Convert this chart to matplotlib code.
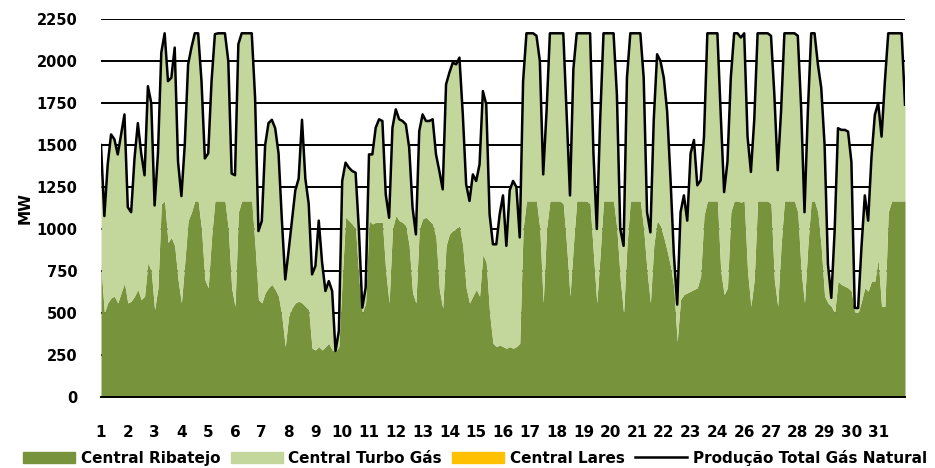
import matplotlib
matplotlib.use("Agg")
import matplotlib.pyplot as plt
from matplotlib.patches import Patch
from matplotlib.lines import Line2D

# hours from start of the period, one reading every 3 hours (30 days)
hours = list(range(0, 721, 3))

# Produção Total Gás Natural (MW)
total = [
    1500, 1077, 1385, 1563, 1534, 1444, 1563, 1682,
    1130, 1100, 1420, 1630, 1450, 1320, 1850, 1750,
    1140, 1450, 2050, 2165, 1880, 1900, 2080, 1400,
    1196, 1500, 1980, 2080, 2165, 2165, 1880, 1420,
    1450, 1880, 2160, 2165, 2165, 2165, 2000, 1330,
    1320, 2100, 2165, 2165, 2165, 2165, 1780, 988,
    1048, 1500, 1630, 1650, 1600, 1450, 1050, 700,
    870, 1050, 1230, 1300, 1650, 1300, 1150, 730,
    780, 1050, 800, 631, 690, 631, 274, 393,
    1286, 1395, 1365, 1345, 1335, 988, 532, 651,
    1444, 1444, 1603, 1653, 1643, 1206, 1067, 1603,
    1712, 1653, 1643, 1623, 1484, 1127, 968, 1583,
    1682, 1643, 1643, 1653, 1444, 1345, 1236, 1861,
    1931, 1990, 1980, 2020, 1683, 1266, 1167, 1325,
    1286, 1385, 1821, 1742, 1087, 909, 909, 1087,
    1200, 900, 1230, 1286, 1250, 950, 1880, 2165,
    2165, 2165, 2150, 2000, 1325, 1700, 2165, 2165,
    2165, 2165, 2165, 1680, 1200, 1950, 2165, 2165,
    2165, 2165, 2165, 1450, 1000, 1650, 2165, 2165,
    2165, 2165, 1800, 1000, 900, 1900, 2165, 2165,
    2165, 2165, 1900, 1100, 980, 1650, 2040, 2000,
    1900, 1700, 1300, 850, 550, 1100, 1200, 1050,
    1450, 1530, 1260, 1290, 1550, 2165, 2165, 2165,
    2165, 1680, 1220, 1400, 1900, 2165, 2165, 2140,
    2165, 1550, 1340, 1650, 2165, 2165, 2165, 2165,
    2150, 1800, 1350, 1700, 2165, 2165, 2165, 2165,
    2150, 1720, 1100, 1700, 2165, 2165, 1980, 1840,
    1500, 790, 590, 990, 1600, 1590, 1590, 1580,
    1400, 530, 530, 890, 1200, 1050, 1430, 1680,
    1750, 1550, 1880, 2165, 2165, 2165, 2165, 2165,
    1740,
]

# Central Ribatejo (MW)
ribatejo = [
    780, 500, 560, 590, 600, 560, 620, 680,
    560, 570, 600, 640, 580, 600, 800, 750,
    520, 650, 1150, 1167, 920, 950, 900, 700,
    560, 800, 1050, 1100, 1167, 1167, 1000, 700,
    650, 950, 1167, 1167, 1167, 1167, 1000, 650,
    540, 1100, 1167, 1167, 1167, 1167, 900, 580,
    560, 620, 650, 670, 640, 600, 480, 300,
    480, 530, 560, 570, 560, 540, 520, 290,
    280, 300, 280, 300, 320, 280, 270, 300,
    700, 1070, 1050, 1030, 1000, 700, 500, 560,
    1050, 1030, 1040, 1040, 1040, 750, 560, 1000,
    1080, 1050, 1040, 1020, 900, 620, 560, 1000,
    1060, 1070, 1050, 1030, 950, 640, 530, 900,
    970, 990, 1000, 1020, 900, 650, 560, 600,
    640, 600, 850, 800, 500, 320, 300, 310,
    300, 290, 300, 290, 300, 320, 1000, 1167,
    1167, 1167, 1167, 1000, 560, 1000, 1167, 1167,
    1167, 1167, 1150, 900, 600, 900, 1167, 1167,
    1167, 1167, 1150, 850, 560, 850, 1167, 1167,
    1167, 1167, 1000, 700, 500, 900, 1167, 1167,
    1167, 1167, 1000, 750, 560, 900, 1050, 1020,
    950, 870, 780, 650, 330, 580, 610, 620,
    630, 640, 650, 720, 1080, 1167, 1167, 1167,
    1167, 750, 610, 650, 1100, 1167, 1167, 1160,
    1167, 750, 540, 700, 1167, 1167, 1167, 1167,
    1150, 700, 540, 900, 1167, 1167, 1167, 1167,
    1100, 750, 560, 900, 1167, 1167, 1100, 890,
    600, 560, 540, 500, 690, 670, 660, 650,
    630, 500, 500, 570, 650, 630, 690, 690,
    820, 540, 540, 1100, 1167, 1167, 1167, 1167,
    1167,
]

day_labels = [str(d) for d in list(range(1, 25)) + list(range(26, 32))]
day_ticks = [24 * i for i in range(len(day_labels))]
y_ticks = list(range(0, 2251, 250))

series_names = ["Central Ribatejo", "Central Turbo Gás", "Central Lares",
                "Produção Total Gás Natural"]
c_rib = "#77933C"
c_tg = "#C3D69B"
c_lares = "#FFC000"

plt.rcParams['font.family'] = ['DejaVu Sans']
plt.rcParams['font.weight'] = 'bold'

fig = plt.figure(figsize=(9.35, 4.68), dpi=100)
ax = fig.add_axes([101 / 935, 1 - 397 / 468, 804 / 935, 378 / 468])

ax.fill_between(hours, 0, ribatejo, color=c_rib, lw=0, zorder=2)
ax.fill_between(hours, ribatejo, total, color=c_tg, lw=0, zorder=2)
ax.plot(hours, total, color="black", lw=1.8, zorder=3, solid_joinstyle="round")

ax.set_xlim(0, 720)
ax.set_ylim(0, 2250)
ax.set_yticks(y_ticks)
ax.set_yticklabels([str(v) for v in y_ticks], fontsize=10.5, fontweight="bold")
ax.set_xticks(day_ticks)
ax.set_xticklabels(day_labels, fontsize=11, fontweight="bold")
ax.tick_params(axis="both", length=0)
ax.tick_params(axis="y", pad=17)
ax.tick_params(axis="x", pad=20)
ax.yaxis.grid(True, color="black", lw=1.4, zorder=1)
ax.set_axisbelow(True)
for s in ["left", "right", "top"]:
    ax.spines[s].set_visible(False)
ax.spines["bottom"].set_linewidth(1.4)
ax.spines["bottom"].set_zorder(4)

ax.set_ylabel("MW", fontsize=11, fontweight="bold", labelpad=2)
ax.yaxis.set_label_coords(-0.085, 0.5)

handles = [Patch(color=c_rib), Patch(color=c_tg), Patch(color=c_lares),
           Line2D([0], [0], color="black", lw=1.8)]
fig.legend(handles, series_names, loc="lower center", ncol=4,
           bbox_to_anchor=(0.508, -0.015), frameon=False,
           prop={"size": 11, "weight": "bold"},
           handlelength=3.4, handleheight=0.8, handletextpad=0.35,
           columnspacing=0.7, borderaxespad=0.2)

fig.savefig("out.png", dpi=100)
